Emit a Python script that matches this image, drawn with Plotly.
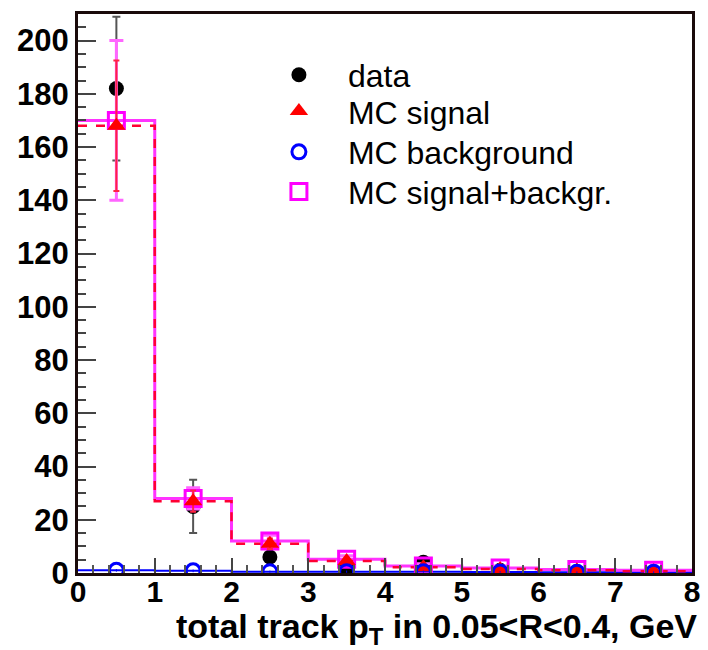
import plotly.graph_objects as go

# bin edges and centres in total track pT (GeV)
edges = [0, 1, 2, 3, 4, 5, 6, 7, 8]
centers = [0.5, 1.5, 2.5, 3.5, 4.5, 5.5, 6.5, 7.5]

data_vals = [182, 25, 6, 2, 4, 1, 0.5, 0.3]
data_err = [27, 10, 3, 1.5, 2, 1, 0.7, 0.5]

sig_vals = [168, 27, 11, 4.5, 2.2, 1.5, 1.0, 0.7]
sig_err = [24.5, 4, 2, 1.2, 0.8, 0.6, 0.5, 0.4]

bkg_vals = [1.0, 0.8, 0.5, 0.5, 0.5, 0.4, 0.3, 0.3]
bkg_err = [0.5, 0.5, 0.4, 0.4, 0.4, 0.3, 0.3, 0.3]

sum_vals = [170, 28, 12, 5.2, 2.6, 1.9, 1.3, 1.0]
sum_err = [30, 4, 2.2, 1.3, 0.9, 0.7, 0.5, 0.4]

FONT = "Liberation Sans"


def steps(vals):
    return vals + [vals[-1]]


fig = go.Figure()

# histogram outlines
fig.add_trace(go.Scatter(x=edges, y=steps(bkg_vals), mode="lines", line=dict(shape="hv", color="#0000ff", width=2),
                         showlegend=False, hoverinfo="skip"))
fig.add_trace(go.Scatter(x=edges, y=steps(sum_vals), mode="lines", line=dict(shape="hv", color="#ff33ff", width=3),
                         showlegend=False, hoverinfo="skip"))
fig.add_trace(go.Scatter(x=edges, y=steps(sig_vals), mode="lines",
                         line=dict(shape="hv", color="#ff0033", width=2.5, dash="dash"),
                         showlegend=False, hoverinfo="skip"))

# points with error bars, each with its own legend row
fig.add_trace(go.Scatter(x=centers, y=data_vals, mode="markers", name="data", legend="legend",
                         marker=dict(symbol="circle", size=15, color="black"),
                         error_y=dict(type="data", array=data_err, color="#555555", thickness=2, width=4)))
fig.add_trace(go.Scatter(x=centers, y=sum_vals, mode="markers", name="MC signal+backgr.", legend="legend4",
                         marker=dict(symbol="square-open", size=16, color="#ff00ff", line=dict(width=3)),
                         error_y=dict(type="data", array=sum_err, color="#ff66ff", thickness=3, width=7)))
fig.add_trace(go.Scatter(x=centers, y=sig_vals, mode="markers", name="MC signal", legend="legend2",
                         marker=dict(symbol="triangle-up", size=16, color="#ff0000"),
                         error_y=dict(type="data", array=sig_err, color="#ff2244", thickness=2, width=3)))
fig.add_trace(go.Scatter(x=centers, y=bkg_vals, mode="markers", name="MC background", legend="legend3",
                         marker=dict(symbol="circle-open", size=14, color="#0000ff", line=dict(width=3)),
                         error_y=dict(type="data", array=bkg_err, color="#0000ff", thickness=1, width=0)))


def legend_box(ypaper):
    return dict(
        x=0.28, y=ypaper, xanchor="left", yanchor="middle",
        bgcolor="rgba(0,0,0,0)", borderwidth=0,
        font=dict(family=FONT, size=32, color="black"),
        itemwidth=88, tracegroupgap=0,
    )


fig.update_layout(
    width=708, height=650,
    margin=dict(l=78, r=8, t=14, b=77),
    paper_bgcolor="white", plot_bgcolor="white",
    font=dict(family=FONT, color="black"),
    legend=legend_box(0.891),
    legend2=legend_box(0.826),
    legend3=legend_box(0.753),
    legend4=legend_box(0.682),
    showlegend=True,
)

fig.update_xaxes(
    range=[0, 8], dtick=1, tick0=0,
    showgrid=False, zeroline=False,
    showline=True, linecolor="#1a0a0a", linewidth=3, mirror=True,
    ticks="inside", ticklen=15, tickwidth=2, tickcolor="#444444",
    minor=dict(ticks="inside", ticklen=8, tickwidth=2, tickcolor="#555555", dtick=0.2),
    tickfont=dict(family=FONT, size=30, color="black", weight="bold"),
    ticklabelstandoff=-10,
)
fig.update_yaxes(
    range=[0, 210], dtick=20, tick0=0,
    showgrid=False, zeroline=False,
    showline=True, linecolor="#1a0a0a", linewidth=3, mirror=True,
    ticks="inside", ticklen=18, tickwidth=2, tickcolor="#444444",
    minor=dict(ticks="inside", ticklen=8, tickwidth=2, tickcolor="#444444", dtick=5),
    tickfont=dict(family=FONT, size=31, color="black", weight="bold"),
)

# x-axis title, right-aligned under the frame
fig.add_annotation(
    text="total track p<sub>T</sub> in 0.05&lt;R&lt;0.4, GeV",
    xref="paper", yref="paper", x=1.012, y=-0.1, xanchor="right", yanchor="middle",
    showarrow=False, font=dict(family=FONT, size=34, color="black", weight="bold"),
)

fig.write_html("out.html")
